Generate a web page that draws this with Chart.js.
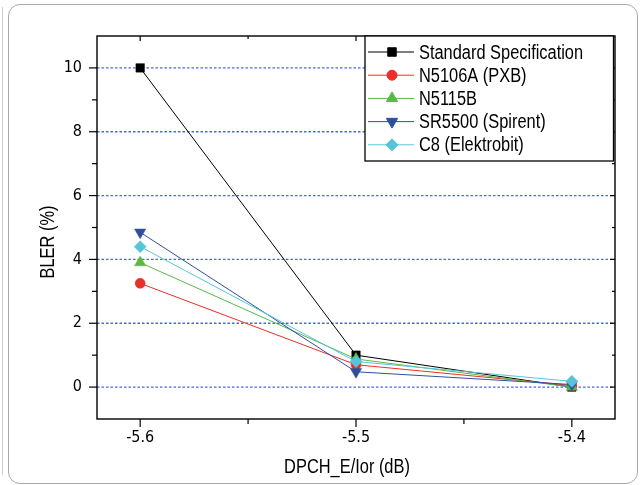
<!DOCTYPE html>
<html><head><meta charset="utf-8">
<script src="https://cdn.jsdelivr.net/npm/chart.js@4.4.0/dist/chart.umd.min.js"></script>
<style>
html,body{margin:0;padding:0;background:#fff;}
#wrap{position:relative;width:640px;height:485px;overflow:hidden;}
#frame{position:absolute;left:8px;top:4px;width:630px;height:480px;border:1px solid #a8a8a8;border-radius:12px;box-sizing:border-box;}
#edge{position:absolute;left:2px;top:7px;width:0;height:468px;border-left:1px solid #cfcfcf;}
canvas{position:absolute;left:0;top:0;}
</style></head><body>
<div id="wrap"><div id="edge"></div><div id="frame"></div><canvas id="c" width="640" height="485"></canvas></div>
<script>
const FONT = '"DejaVu Sans Condensed", "Liberation Sans", sans-serif';
const TEXT_FONT = '"Liberation Sans", Arial, sans-serif';

// ---- data ----
const xValues = [-5.6, -5.5, -5.4];
const seriesNames = ['Standard Specification', 'N5106A (PXB)', 'N5115B', 'SR5500 (Spirent)', 'C8 (Elektrobit)'];
const standardSpec = [10.0, 1.0, 0.0];
const n5106a = [3.25, 0.70, 0.05];
const n5115b = [3.90, 0.88, 0.00];
const sr5500 = [4.85, 0.48, 0.08];
const c8 = [4.40, 0.80, 0.18];
const xTitle = 'DPCH_E/Ior (dB)';
const yTitle = 'BLER (%)';
const xTickLabels = [-5.6, -5.5, -5.4];
const xMinorTicks = [-5.55, -5.45];
const yTickLabels = [0, 2, 4, 6, 8, 10];
const yMinorTicks = [1, 3, 5, 7, 9];

const allSeries = [standardSpec, n5106a, n5115b, sr5500, c8];
const colors = ['#000000', '#e8302a', '#5bb749', '#2f4f9e', '#55c6da'];
const styles = ['rect', 'circle', 'triangle', 'triangle', 'rectRot'];
const rotations = [0, 0, 0, 180, 0];
const radii = [6, 5, 6.5, 6.5, 6];

const datasets = allSeries.map((vals, i) => ({
  label: seriesNames[i],
  data: xValues.map((x, j) => ({x: x, y: vals[j]})),
  borderColor: colors[i],
  backgroundColor: colors[i],
  pointBackgroundColor: colors[i],
  pointBorderColor: colors[i],
  pointStyle: styles[i],
  pointRotation: rotations[i],
  pointRadius: radii[i],
  pointBorderWidth: 0.5,
  borderWidth: 1,
  tension: 0,
  order: 5 - i
}));

function narrowText(ctx, text, x, y, size, rot) {
  ctx.save();
  ctx.translate(x, y);
  if (rot) ctx.rotate(rot);
  ctx.scale(0.82, 1);
  ctx.font = size + 'px ' + TEXT_FONT;
  ctx.fillStyle = '#000';
  ctx.fillText(text, 0, 0);
  ctx.restore();
}

const framePlugin = {
  id: 'frameLegend',
  beforeDatasetsDraw(chart) {
    const ctx = chart.ctx, a = chart.chartArea, ys = chart.scales.y;
    ctx.save();
    ctx.strokeStyle = '#4466ee';
    ctx.lineWidth = 1.3;
    ctx.setLineDash([2.5, 2]);
    yTickLabels.forEach(v => {
      const p = ys.getPixelForValue(v);
      ctx.beginPath(); ctx.moveTo(a.left, p); ctx.lineTo(a.right, p); ctx.stroke();
    });
    ctx.restore();
  },
  afterDraw(chart) {
    const ctx = chart.ctx, a = chart.chartArea;
    const xs = chart.scales.x, ys = chart.scales.y;
    ctx.save();
    ctx.strokeStyle = '#000';
    ctx.lineWidth = 1.4;
    ctx.strokeRect(a.left, a.top, a.right - a.left, a.bottom - a.top);
    ctx.lineWidth = 1.2;
    const seg = (x1, y1, x2, y2) => { ctx.beginPath(); ctx.moveTo(x1, y1); ctx.lineTo(x2, y2); ctx.stroke(); };
    xTickLabels.forEach(v => { const p = xs.getPixelForValue(v); seg(p, a.bottom, p, a.bottom + 8); seg(p, a.top, p, a.top + 5); });
    xMinorTicks.forEach(v => { const p = xs.getPixelForValue(v); seg(p, a.bottom, p, a.bottom + 5); seg(p, a.top, p, a.top + 3); });
    yTickLabels.forEach(v => { const p = ys.getPixelForValue(v); seg(a.left - 8, p, a.left, p); seg(a.right - 5, p, a.right, p); });
    yMinorTicks.forEach(v => { const p = ys.getPixelForValue(v); seg(a.left - 5, p, a.left, p); seg(a.right - 3, p, a.right, p); });

    // axis titles
    ctx.textBaseline = 'middle';
    ctx.textAlign = 'center';
    narrowText(ctx, xTitle, 347, 467, 20, 0);
    narrowText(ctx, yTitle, 48, 242, 20, -Math.PI / 2);

    // legend
    const L = {left: 365, top: a.top, right: a.right - 1.5, bottom: 161};
    ctx.fillStyle = '#fff';
    ctx.fillRect(L.left, L.top, L.right - L.left, L.bottom - L.top);
    ctx.strokeStyle = '#000';
    ctx.lineWidth = 1.3;
    ctx.strokeRect(L.left, L.top, L.right - L.left, L.bottom - L.top);
    ctx.textAlign = 'left';
    chart.data.datasets.forEach((ds, i) => {
      const y = L.top + 16 + i * 23.2;
      ctx.strokeStyle = ds.borderColor;
      ctx.lineWidth = 1;
      seg(L.left + 3, y, L.left + 49, y);
      ctx.fillStyle = ds.pointBackgroundColor;
      ctx.strokeStyle = ds.pointBorderColor;
      Chart.helpers.drawPoint(ctx, {pointStyle: ds.pointStyle, rotation: ds.pointRotation, radius: ds.pointRadius, borderWidth: 0.5}, L.left + 27, y);
      narrowText(ctx, ds.label, L.left + 54, y + 1, 20, 0);
    });
    ctx.restore();
  }
};

new Chart(document.getElementById('c'), {
  type: 'line',
  data: {datasets: datasets},
  options: {
    responsive: false,
    animation: false,
    layout: {padding: {left: 0, top: 36, right: 25, bottom: 0}},
    plugins: {legend: {display: false}, tooltip: {enabled: false}},
    scales: {
      x: {
        type: 'linear', min: -5.62, max: -5.38,
        afterBuildTicks: s => { s.ticks = xTickLabels.map(v => ({value: v})); },
        afterFit: s => { s.height = 66; },
        ticks: {callback: v => v.toFixed(1), color: '#000', font: {family: FONT, size: 16}, padding: 9, maxRotation: 0, autoSkip: false},
        grid: {display: false, drawTicks: false},
        border: {display: false},
        title: {display: false, text: xTitle}
      },
      y: {
        type: 'linear', min: -1, max: 11,
        afterBuildTicks: s => { s.ticks = yTickLabels.map(v => ({value: v})); },
        afterFit: s => { s.width = 97; },
        ticks: {color: '#000', font: {family: FONT, size: 16}, padding: 15},
        grid: {display: false, drawTicks: false},
        border: {display: false},
        title: {display: false, text: yTitle}
      }
    }
  },
  plugins: [framePlugin]
});
</script>
</body></html>
